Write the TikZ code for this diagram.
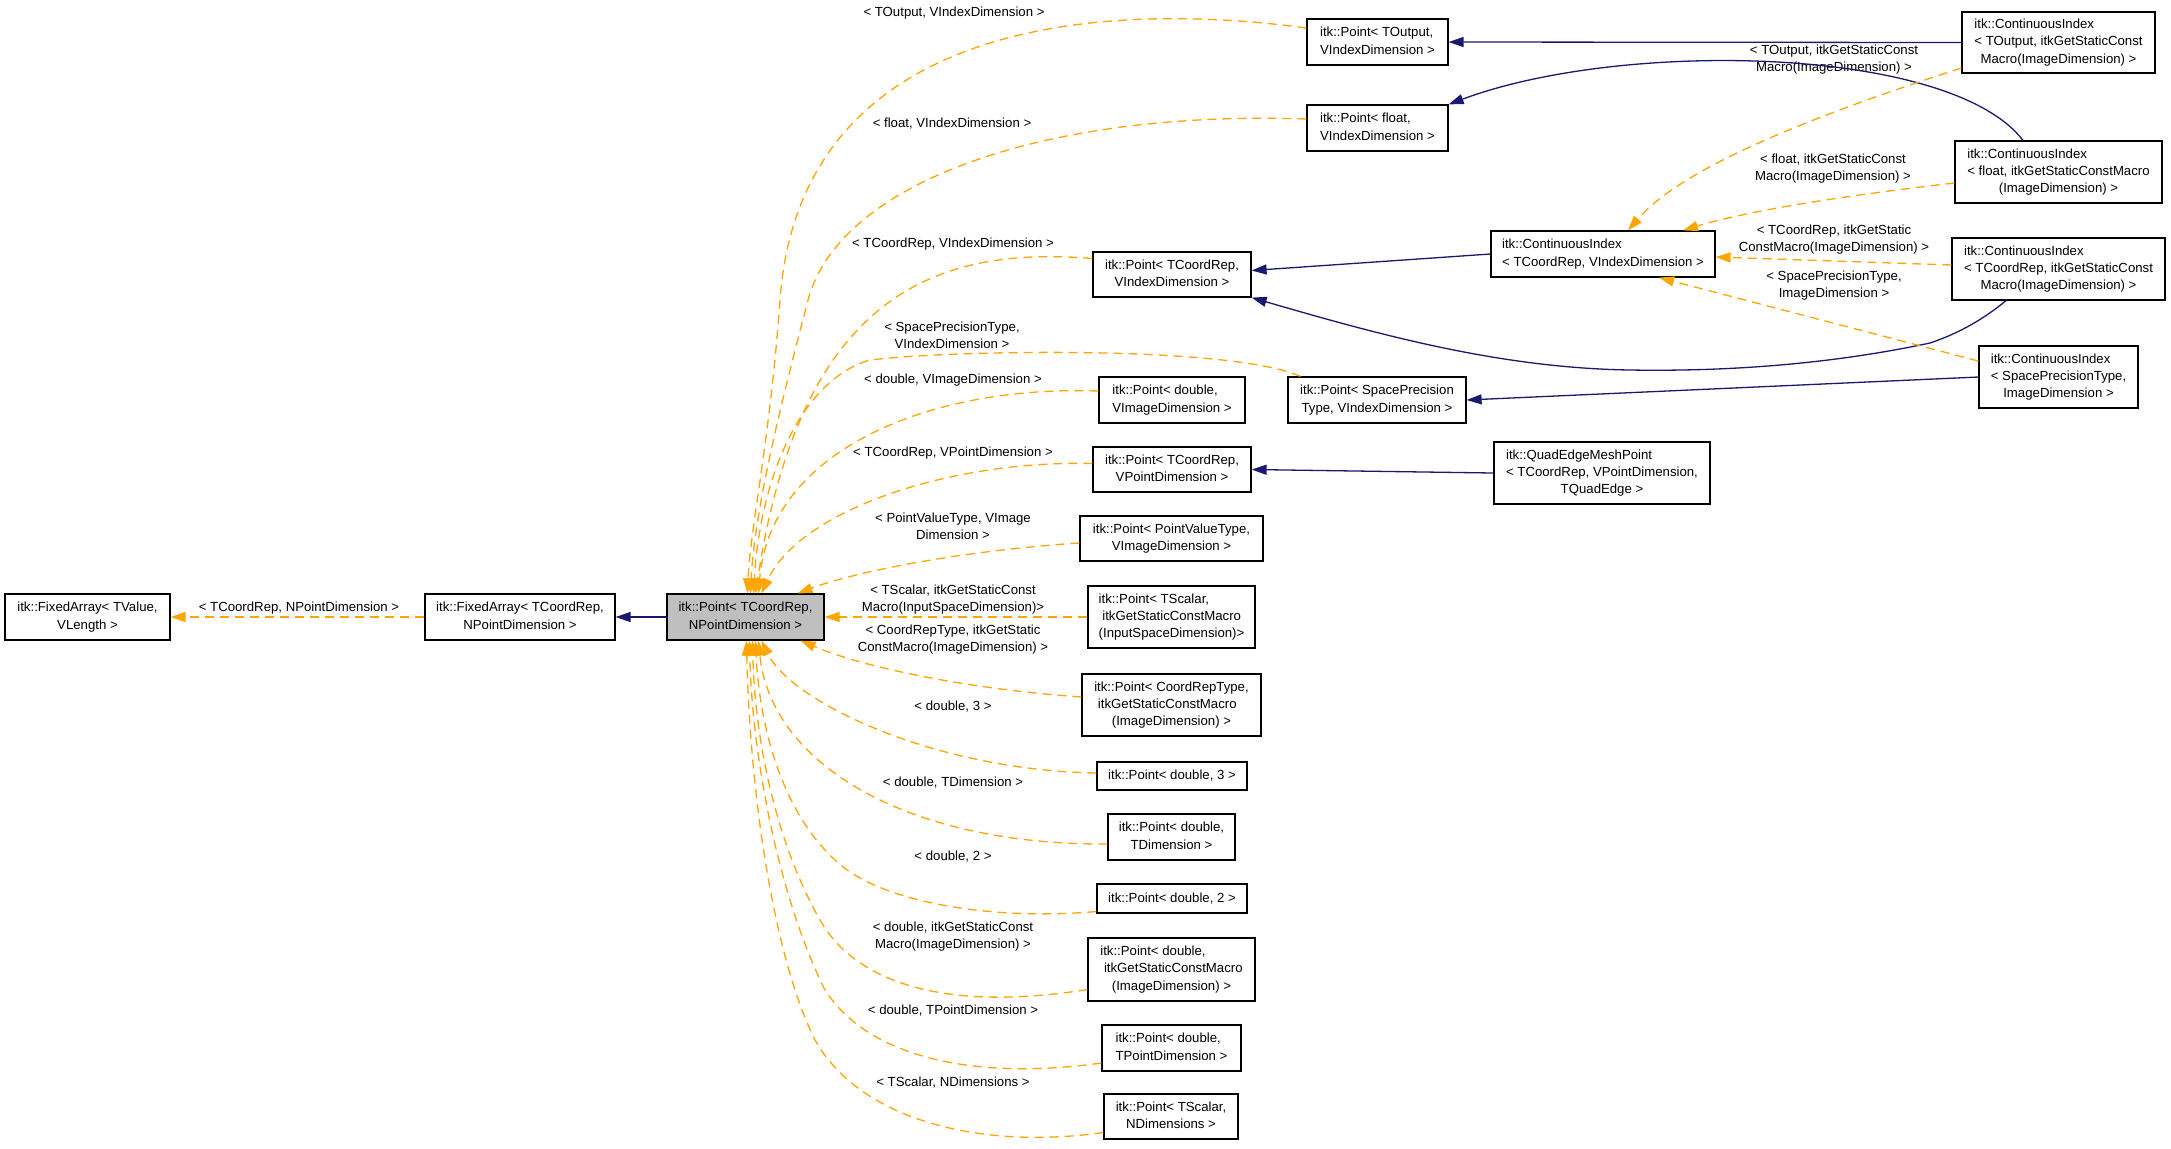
\documentclass[tikz,border=0pt]{standalone}
\usepackage{fontspec}
\setmainfont{Liberation Sans}
\usetikzlibrary{arrows.meta}
\definecolor{edgeorange}{HTML}{FFA500}
\definecolor{edgeblue}{HTML}{191970}
\definecolor{basegray}{HTML}{BFBFBF}
\newcommand\ltwo[2]{\begin{tabular}{@{}l@{}}#1\\\multicolumn{1}{@{}c@{}}{#2}\end{tabular}}
\newcommand\lthree[3]{\begin{tabular}{@{}l@{}}#1\\#2\\\multicolumn{1}{@{}c@{}}{#3}\end{tabular}}
\newcommand\ctwo[2]{\begin{tabular}{@{}c@{}}#1\\#2\end{tabular}}
\tikzset{
  cls/.style={draw=black, line width=0.6pt, fill=white, inner sep=0pt, font=\fontsize{6.6}{8.6}\selectfont},
  lbl/.style={inner sep=0pt, font=\fontsize{6.6}{8.6}\selectfont},
  tmpl/.style={draw=edgeorange, dash pattern=on 4.5pt off 3pt, line width=0.65pt,
    -{Triangle[length=7.5pt,width=5pt,fill=edgeorange]}},
  inh/.style={draw=edgeblue, line width=0.65pt,
    -{Triangle[length=7.5pt,width=5pt,fill=edgeblue]}}
}
\begin{document}
\begin{tikzpicture}[x=0.5pt,y=-0.5pt]
\fill[white] (0,0) rectangle (2171,1148);
\useasboundingbox (0,0) rectangle (2171,1148);

% class boxes
\node[cls, minimum width=82.5pt, minimum height=23pt] (fa1) at (87.5,617) {\ltwo{itk::FixedArray< TValue,}{VLength >}};
\node[cls, minimum width=95pt, minimum height=23pt] (fa2) at (520,617) {\ltwo{itk::FixedArray< TCoordRep,}{NPointDimension >}};
\node[cls, fill=basegray, minimum width=78.5pt, minimum height=23pt] (G) at (745.5,617) {\ltwo{itk::Point< TCoordRep,}{NPointDimension >}};

\node[cls, minimum width=70.5pt, minimum height=23pt] (pTO) at (1377.5,42) {\ltwo{itk::Point< TOutput,}{VIndexDimension >}};
\node[cls, minimum width=70.5pt, minimum height=23pt] (pFl) at (1377.5,128) {\ltwo{itk::Point< float,}{VIndexDimension >}};
\node[cls, minimum width=79pt, minimum height=22.5pt] (pCV) at (1172,274.5) {\ltwo{itk::Point< TCoordRep,}{VIndexDimension >}};
\node[cls, minimum width=89pt, minimum height=23pt] (pSP) at (1377,400) {\ltwo{itk::Point< SpacePrecision}{Type, VIndexDimension >}};
\node[cls, minimum width=73pt, minimum height=23pt] (pDV) at (1172,400) {\ltwo{itk::Point< double,}{VImageDimension >}};
\node[cls, minimum width=79pt, minimum height=22.5pt] (pVP) at (1172,469.5) {\ltwo{itk::Point< TCoordRep,}{VPointDimension >}};
\node[cls, minimum width=91.5pt, minimum height=22.5pt] (pPV) at (1171.5,538.5) {\ltwo{itk::Point< PointValueType,}{VImageDimension >}};
\node[cls, minimum width=83.5pt, minimum height=31pt] (pTS) at (1171.5,617) {\lthree{itk::Point< TScalar,}{\ itkGetStaticConstMacro}{(InputSpaceDimension)>}};
\node[cls, minimum width=89.5pt, minimum height=31pt] (pCR) at (1171.5,705) {\lthree{itk::Point< CoordRepType,}{\ itkGetStaticConstMacro}{(ImageDimension) >}};
\node[cls, minimum width=75pt, minimum height=14pt] (pD3) at (1172,776) {itk::Point< double, 3 >};
\node[cls, minimum width=63.5pt, minimum height=23pt] (pDT) at (1171.5,837) {\ltwo{itk::Point< double,}{TDimension >}};
\node[cls, minimum width=75pt, minimum height=14.5pt] (pD2) at (1172,898.5) {itk::Point< double, 2 >};
\node[cls, minimum width=83.5pt, minimum height=31.5pt] (pDI) at (1171.5,969.5) {\lthree{itk::Point< double,}{\ itkGetStaticConstMacro}{(ImageDimension) >}};
\node[cls, minimum width=69.5pt, minimum height=23pt] (pDP) at (1171.5,1048) {\ltwo{itk::Point< double,}{TPointDimension >}};
\node[cls, minimum width=67pt, minimum height=22.5pt] (pTN) at (1171,1116.5) {\ltwo{itk::Point< TScalar,}{NDimensions >}};

\node[cls, minimum width=112pt, minimum height=23pt] (civ) at (1603,254) {\ltwo{itk::ContinuousIndex}{< TCoordRep, VIndexDimension >}};
\node[cls, minimum width=108pt, minimum height=31pt] (qe) at (1602,473) {\lthree{itk::QuadEdgeMeshPoint}{< TCoordRep, VPointDimension,}{TQuadEdge >}};
\node[cls, minimum width=96.5pt, minimum height=30.5pt] (ciTO) at (2058.5,42.5) {\lthree{itk::ContinuousIndex}{< TOutput, itkGetStaticConst}{Macro(ImageDimension) >}};
\node[cls, minimum width=103.5pt, minimum height=31pt] (ciFl) at (2058.5,172) {\lthree{itk::ContinuousIndex}{< float, itkGetStaticConstMacro}{(ImageDimension) >}};
\node[cls, minimum width=106.5pt, minimum height=31pt] (ciCR) at (2058.5,269) {\lthree{itk::ContinuousIndex}{< TCoordRep, itkGetStaticConst}{Macro(ImageDimension) >}};
\node[cls, minimum width=79.5pt, minimum height=31pt] (ciSP) at (2058.5,377) {\lthree{itk::ContinuousIndex}{< SpacePrecisionType,}{ImageDimension >}};

% edge labels
\node[lbl] (lfa) at (299,608) {< TCoordRep, NPointDimension >};
\node[lbl] (lTO) at (954,13) {< TOutput, VIndexDimension >};
\node[lbl] (lFl) at (952,124) {< float, VIndexDimension >};
\node[lbl] (lCV) at (953,244) {< TCoordRep, VIndexDimension >};
\node[lbl] (lSP) at (952,336.5) {\ctwo{< SpacePrecisionType,}{VIndexDimension >}};
\node[lbl] (lDV) at (953,380) {< double, VImageDimension >};
\node[lbl] (lVP) at (953,453) {< TCoordRep, VPointDimension >};
\node[lbl] (lPV) at (953,527.5) {\ctwo{< PointValueType, VImage}{Dimension >}};
\node[lbl] (lTS) at (953,599.5) {\ctwo{< TScalar, itkGetStaticConst}{Macro(InputSpaceDimension)>}};
\node[lbl] (lCR) at (953,639.5) {\ctwo{< CoordRepType, itkGetStatic}{ConstMacro(ImageDimension) >}};
\node[lbl] (lD3) at (953,707) {< double, 3 >};
\node[lbl] (lDT) at (953,783) {< double, TDimension >};
\node[lbl] (lD2) at (953,857) {< double, 2 >};
\node[lbl] (lDI) at (953,936.5) {\ctwo{< double, itkGetStaticConst}{Macro(ImageDimension) >}};
\node[lbl] (lDP) at (953,1011) {< double, TPointDimension >};
\node[lbl] (lTN) at (953,1083) {< TScalar, NDimensions >};
\node[lbl] (rTO) at (1834,59.5) {\ctwo{< TOutput, itkGetStaticConst}{Macro(ImageDimension) >}};
\node[lbl] (rFl) at (1833,168.5) {\ctwo{< float, itkGetStaticConst}{Macro(ImageDimension) >}};
\node[lbl] (rCR) at (1834,239.5) {\ctwo{< TCoordRep, itkGetStatic}{ConstMacro(ImageDimension) >}};
\node[lbl] (rSP) at (1834,285.5) {\ctwo{< SpacePrecisionType,}{ImageDimension >}};

% left chain
\draw[inh] (G.west) -- (fa2.east);
\draw[tmpl] (fa2.west) -- (fa1.east);

% template edges into the grey Point (top)
\draw[tmpl] ([yshift=7pt]pTO.west) .. controls (1100,0) and (800,20) .. (780,300)
  .. controls (770,440) and (750,530) .. ([xshift=1pt]G.north);
\draw[tmpl] ([yshift=4.5pt]pFl.west) .. controls (1050,110) and (840,180) .. (808,300)
  .. controls (790,370) and (755,500) .. ([xshift=2.5pt]G.north);
\draw[tmpl] ([yshift=8pt]pCV.west) .. controls (930,245) and (800,300) .. ([xshift=5pt]G.north);
\draw[tmpl] ([xshift=6.5pt]pSP.north west) .. controls (1230,345) and (950,350) .. (870,360)
  .. controls (800,380) and (760,480) .. ([xshift=4pt]G.north);
\draw[tmpl] ([yshift=4.5pt]pDV.west) .. controls (930,385) and (770,450) .. ([xshift=6.5pt]G.north);
\draw[tmpl] ([yshift=3pt]pVP.west) .. controls (950,460) and (800,510) .. ([xshift=8pt]G.north);
\draw[tmpl] ([yshift=-2.25pt]pPV.west) .. controls (970,550) and (860,570) .. ([xshift=26pt]G.north);
\draw[tmpl] (pTS.west) -- (G.east);

% template edges into the grey Point (bottom)
\draw[tmpl] ([yshift=4pt]pCR.west) .. controls (980,690) and (870,670) .. ([xshift=27.5pt]G.south);
\draw[tmpl] ([yshift=1.5pt]pD3.west) .. controls (930,770) and (790,700) .. ([xshift=8pt]G.south);
\draw[tmpl] ([yshift=-3.5pt]pDT.west) .. controls (900,845) and (770,760) .. ([xshift=6.5pt]G.south);
\draw[tmpl] ([yshift=-6.5pt]pD2.west) .. controls (1000,920) and (900,905) .. (850,872)
  .. controls (790,830) and (760,740) .. ([xshift=5pt]G.south);
\draw[tmpl] ([yshift=-10pt]pDI.west) .. controls (960,1010) and (860,990) .. (820,920)
  .. controls (780,850) and (755,750) .. ([xshift=3.5pt]G.south);
\draw[tmpl] ([yshift=-7.5pt]pDP.west) .. controls (980,1080) and (870,1060) .. (825,990)
  .. controls (780,900) and (752,760) .. ([xshift=2pt]G.south);
\draw[tmpl] ([yshift=-8pt]pTN.west) .. controls (980,1150) and (860,1120) .. (815,1040)
  .. controls (775,960) and (750,800) .. ([xshift=0.5pt]G.south);

% inheritance edges on the right
\draw[inh] (ciTO.west) -- (pTO.east);
\draw[inh] ([xshift=-17.75pt]ciFl.north) .. controls (1950,45) and (1620,40) .. (pFl.north east);
\draw[inh] (civ.west) -- ([yshift=2pt]pCV.east);
\draw[inh] ([xshift=-26.25pt]ciCR.south) .. controls (1985,318) and (1960,333) .. (1930,343)
  .. controls (1850,360) and (1750,372) .. (1630,370)
  .. controls (1500,368) and (1380,335) .. (pCV.south east);
\draw[inh] (ciSP.west) -- (pSP.east);
\draw[inh] (qe.west) -- (pVP.east);

% template edges into ContinuousIndex
\draw[tmpl] ([yshift=-12.75pt]ciTO.west) .. controls (1800,120) and (1680,170) .. ([xshift=12.5pt]civ.north);
\draw[tmpl] ([yshift=-5.5pt]ciFl.west) .. controls (1850,195) and (1750,210) .. ([xshift=40pt]civ.north);
\draw[tmpl] ([yshift=2pt]ciCR.west) -- ([yshift=-1.5pt]civ.east);
\draw[tmpl] ([yshift=8pt]ciSP.west) -- ([xshift=28pt]civ.south);
\end{tikzpicture}
\end{document}
